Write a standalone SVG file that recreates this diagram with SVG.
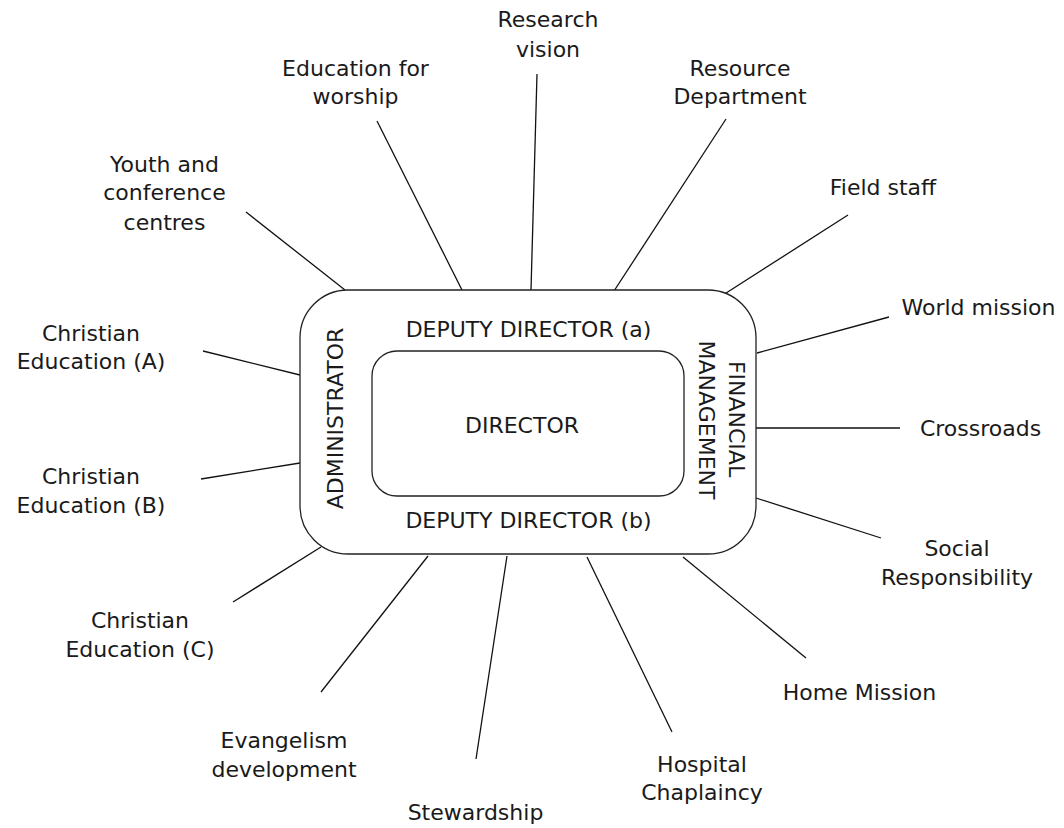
<svg xmlns="http://www.w3.org/2000/svg" width="1064" height="828" viewBox="0 0 1064 828">
<style>
  text { font-family: "DejaVu Sans", "Liberation Sans", sans-serif; font-size: 22px; fill: #1a1a1a; text-anchor: middle; }
  .box { fill: #fff; stroke: #222; stroke-width: 1.3; }
  .conn line { stroke: #111; stroke-width: 1.3; }
</style>
<rect width="1064" height="828" fill="#fff"/>
<g class="conn" id="connectors">
  <line x1="246" y1="212" x2="345" y2="290"/>
  <line x1="377" y1="121" x2="462" y2="290"/>
  <line x1="537" y1="74" x2="531" y2="290"/>
  <line x1="726" y1="119" x2="614" y2="291"/>
  <line x1="848" y1="215" x2="723" y2="295"/>
  <line x1="889" y1="317" x2="757" y2="353"/>
  <line x1="756" y1="428" x2="900" y2="428"/>
  <line x1="756" y1="498" x2="881" y2="538"/>
  <line x1="683" y1="557" x2="806" y2="658"/>
  <line x1="587" y1="557" x2="672" y2="732"/>
  <line x1="507" y1="556" x2="476" y2="759"/>
  <line x1="428" y1="556" x2="321" y2="692"/>
  <line x1="321" y1="547" x2="233" y2="602"/>
  <line x1="203" y1="351" x2="300" y2="375"/>
  <line x1="201" y1="479" x2="300" y2="463"/>
</g>
<g id="outer">
  <rect class="box" x="300" y="290" width="456" height="264" rx="48" ry="48"/>
  <text x="528.5" y="337">DEPUTY DIRECTOR (a)</text>
  <text x="528.5" y="528">DEPUTY DIRECTOR (b)</text>
  <text transform="translate(343,418.5) rotate(-90)">ADMINISTRATOR</text>
  <text transform="translate(729,419) rotate(90)">FINANCIAL</text>
  <text transform="translate(699,420) rotate(90)">MANAGEMENT</text>
</g>
<g id="director">
  <rect class="box" x="372" y="351" width="312" height="145" rx="25" ry="25"/>
  <text x="522" y="433">DIRECTOR</text>
</g>
<g id="youth"><text x="164.5" y="172">Youth and</text><text x="164.5" y="200">conference</text><text x="164.5" y="230">centres</text></g>
<g id="worship"><text x="355.5" y="76">Education for</text><text x="355.5" y="104">worship</text></g>
<g id="research"><text x="548" y="27">Research</text><text x="548" y="57">vision</text></g>
<g id="resource"><text x="740" y="76">Resource</text><text x="740" y="104">Department</text></g>
<g id="field"><text x="883" y="195">Field staff</text></g>
<g id="world"><text x="978.5" y="315">World mission</text></g>
<g id="crossroads"><text x="980.5" y="436">Crossroads</text></g>
<g id="social"><text x="957" y="556">Social</text><text x="957" y="585">Responsibility</text></g>
<g id="home"><text x="859.5" y="700">Home Mission</text></g>
<g id="hospital"><text x="702" y="772">Hospital</text><text x="702" y="800">Chaplaincy</text></g>
<g id="stewardship"><text x="475.5" y="820">Stewardship</text></g>
<g id="evangelism"><text x="284" y="748">Evangelism</text><text x="284" y="777">development</text></g>
<g id="ceC"><text x="140" y="628">Christian</text><text x="140" y="657">Education (C)</text></g>
<g id="ceA"><text x="91" y="341">Christian</text><text x="91" y="369">Education (A)</text></g>
<g id="ceB"><text x="91" y="484">Christian</text><text x="91" y="513">Education (B)</text></g>
</svg>
